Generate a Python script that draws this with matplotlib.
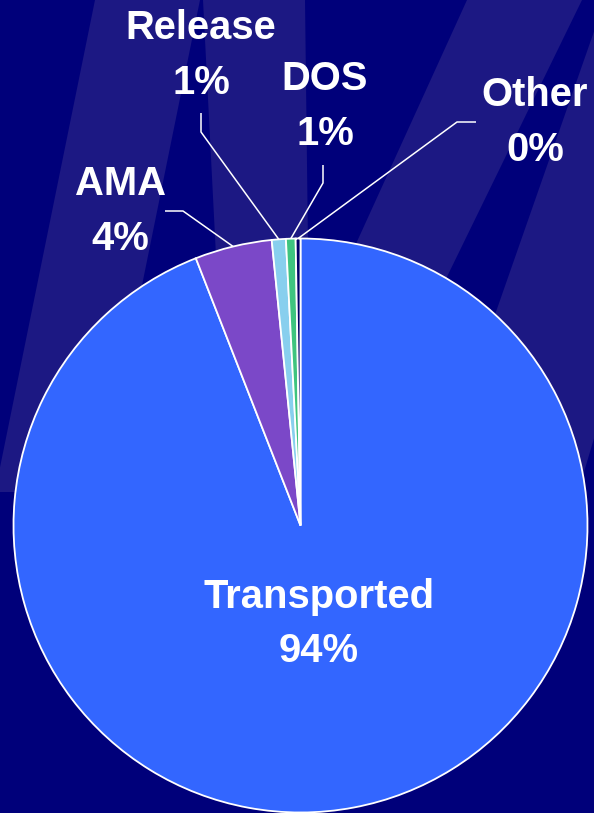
import numpy as np
import matplotlib
matplotlib.use("Agg")
import matplotlib.pyplot as plt
from matplotlib.patches import Polygon

# ── Data ──────────────────────────────────────────────────────────────────────

categories = ["Transported", "AMA", "Release", "DOS", "Other"]
values     = [94.06, 4.34, 0.79, 0.54, 0.27]
colors     = ["#3366ff", "#7b48c8", "#88cfee", "#3fc47f", "#000066"]

# label layout in pixel coords (x, y from top): text anchor (baseline of last line),
# leader elbow, leader end
label_pos  = {"AMA": (120, 250), "Release": (201, 94), "DOS": (325, 145), "Other": (535, 161)}
elbow_pos  = {"AMA": (183, 211), "Release": (201, 132), "DOS": (323, 183), "Other": (457, 122)}
end_pos    = {"AMA": (165, 211), "Release": (201, 113), "DOS": (323, 165), "Other": (476, 122)}

# ── Figure setup ──────────────────────────────────────────────────────────────

W, H = 594, 813
BG = "#00007a"
STRIPE = "#1c1883"
FONT = "Liberation Sans"

plt.rcParams["font.family"] = [FONT, "DejaVu Sans"]

fig = plt.figure(figsize=(W / 100, H / 100), dpi=100)
fig.patch.set_facecolor(BG)
ax = fig.add_axes([0, 0, 1, 1])
ax.set_facecolor(BG)


def px(x, y):
    # pixel coords (y down) -> axes coords (y up)
    return x, H - y


# background stripes (decoration)
stripes = [
    [(95, 0), (200, 0), (100, 492), (-5, 492)],
    [(203, 0), (305, 0), (311, 492), (228, 492)],
    [(467, 0), (582, 0), (342, 492), (243, 492)],
    [(605, 0), (725, 0), (578, 492), (433, 492)],
]
for pts in stripes:
    ax.add_patch(Polygon([px(*p) for p in pts], closed=True,
                         facecolor=STRIPE, edgecolor="none", zorder=0))

# ── Pie ───────────────────────────────────────────────────────────────────────

cx, cy = px(300.5, 525.5)
R = 287

wedges, _ = ax.pie(
    values, colors=colors, startangle=90, counterclock=False,
    center=(cx, cy), radius=R, frame=True,
    wedgeprops=dict(edgecolor="white", linewidth=1.3),
)
ax.set_xlim(0, W)
ax.set_ylim(0, H)
ax.set_aspect("equal")
ax.axis("off")

total = sum(values)
text_kw = dict(color="white", fontsize=28.8, fontweight="bold",
               ha="center", va="baseline", linespacing=1.56, zorder=5)

for name, val, w in zip(categories, values, wedges):
    pct = f"{val / total * 100:.0f}%"
    mid = np.deg2rad((w.theta1 + w.theta2) / 2)
    if name == "Transported":
        d = 0.34 * R
        tx, ty = cx + d * np.cos(mid), cy + d * np.sin(mid)
        ax.text(tx, ty - 41, f"{name}\n{pct}", **text_kw)
        continue
    rim = (cx + R * np.cos(mid), cy + R * np.sin(mid))
    ex, ey = px(*elbow_pos[name])
    sx, sy = px(*end_pos[name])
    ax.plot([rim[0], ex, sx], [rim[1], ey, sy], color="white", lw=1.1, zorder=4,
            solid_capstyle="butt")
    lx, ly = px(*label_pos[name])
    ax.text(lx, ly, f"{name}\n{pct}", **text_kw)

fig.savefig("out.png", dpi=100, facecolor=BG)
